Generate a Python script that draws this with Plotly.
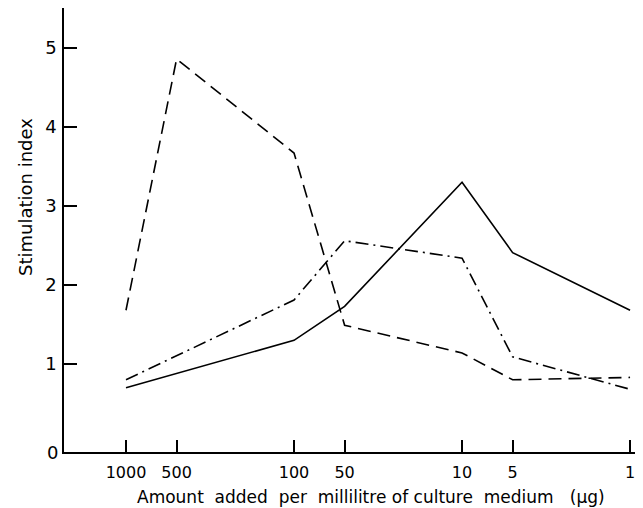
import plotly.graph_objects as go

# Data (amount in µg per ml, stimulation index)
solid_x = [1000, 100, 50, 10, 5, 1]
solid_y = [0.70, 1.30, 1.73, 3.30, 2.41, 1.68]

dashed_x = [1000, 500, 100, 50, 10, 5, 1]
dashed_y = [1.68, 4.86, 3.67, 1.49, 1.14, 0.80, 0.83]

dashdot_x = [1000, 100, 50, 10, 5, 1]
dashdot_y = [0.80, 1.81, 2.56, 2.34, 1.09, 0.68]

x_tickvals = [1000, 500, 100, 50, 10, 5, 1]
x_ticktext = ["1000", "500", "100", "50", "10", "5", "1"]
y_tickvals = [1, 2, 3, 4, 5]
y_ticktext = ["1", "2", "3", "4", "5"]

FONT = "DejaVu Sans"
NB = "\u00a0"
x_title = (f"Amount{NB} added{NB} per{NB} millilitre of culture{NB} "
           f"medium{NB}{NB} (μg)")

W, H = 635, 500          # page body has an 8px margin inside the 643x508 window
L, B, T, R = 56, 56, 0, 0
PW, PH = W - L - R, H - T - B

fig = go.Figure()
fig.add_trace(go.Scatter(x=solid_x, y=solid_y, mode="lines",
                         line=dict(color="black", width=1.6)))
fig.add_trace(go.Scatter(x=dashed_x, y=dashed_y, mode="lines",
                         line=dict(color="black", width=1.6, dash="13px,7px")))
fig.add_trace(go.Scatter(x=dashdot_x, y=dashdot_y, mode="lines",
                         line=dict(color="black", width=1.6, dash="13px,5px,2px,5px")))

fig.update_layout(
    width=W, height=H,
    margin=dict(l=L, r=R, t=T, b=B, pad=0),
    paper_bgcolor="white", plot_bgcolor="white",
    showlegend=False,
    font=dict(family=FONT, color="black"),
    xaxis=dict(
        type="log", range=[3.369, -0.077],
        tickvals=x_tickvals, ticktext=x_ticktext,
        ticks="inside", ticklen=12, tickwidth=1.5, tickcolor="black",
        showline=True, linecolor="black", linewidth=1.6,
        showgrid=False, zeroline=False,
        tickfont=dict(size=16, family=FONT),
        ticklabelstandoff=5,
    ),
    yaxis=dict(
        range=[-0.114, 5.506],
        tickvals=y_tickvals, ticktext=y_ticktext,
        ticks="inside", ticklen=13, tickwidth=1.5, tickcolor="black",
        showline=True, linecolor="black", linewidth=1.6,
        showgrid=False, zeroline=False,
        tickfont=dict(size=18, family=FONT),
        ticklabelstandoff=2,
    ),
    annotations=[
        dict(text="0", xref="paper", yref="paper", x=(44 - L) / PW, y=0,
             xanchor="center", yanchor="middle", showarrow=False,
             font=dict(size=18, family=FONT)),
        dict(text=x_title,
             xref="paper", yref="paper", x=(363 - L) / PW, y=-(489 - 444) / PH,
             xanchor="center", yanchor="middle", showarrow=False,
             font=dict(size=17, family=FONT)),
        dict(text="Stimulation index", xref="paper", yref="paper",
             x=(17 - L) / PW, y=(444 - 189) / PH, textangle=-90,
             xanchor="center", yanchor="middle", showarrow=False,
             font=dict(size=18, family=FONT)),
    ],
)

fig.write_html("out.html")
